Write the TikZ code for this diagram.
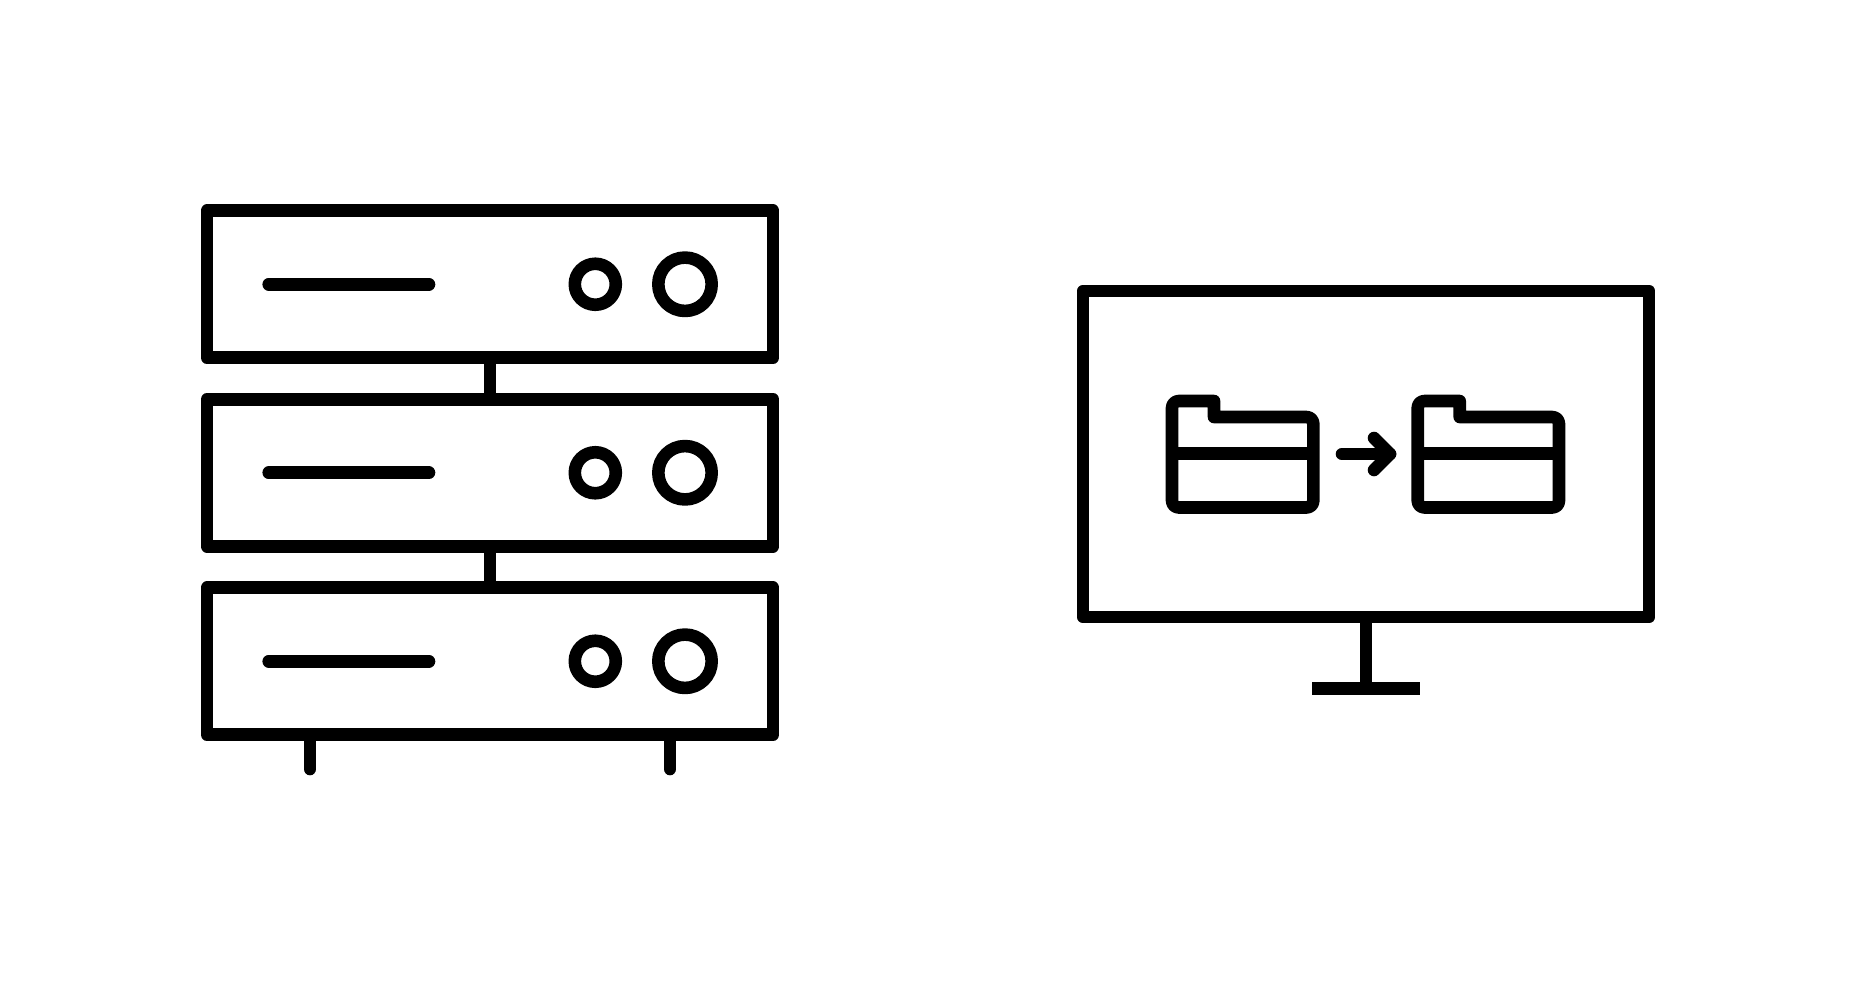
\documentclass[tikz,border=0pt]{standalone}
\usepackage{tikz}
\usetikzlibrary{positioning}

\begin{document}
\begin{tikzpicture}[x=0.5pt, y=-0.5pt, node distance={20.75pt}, line width=6.3pt, line join=round,
  rack/.style = {draw, rectangle, inner sep=0, outer sep=0, minimum width=283pt, minimum height=73.5pt},
  screen/.style = {draw, rectangle, inner sep=0, outer sep=0, minimum width=283pt, minimum height=163pt},
  ledsmall/.style = {draw, circle, inner sep=0, outer sep=0, minimum size=20.5pt},
  ledbig/.style = {draw, circle, inner sep=0, outer sep=0, minimum size=26.7pt},
  stand/.style = {fill, rectangle, inner sep=0, outer sep=0, minimum width=54.15pt, minimum height=6.2pt},
  slot/.style = {line cap=round},
  folder/.style = {rounded corners=3.4pt}]

\useasboundingbox (0,0) rectangle (1856,980);

% server rack
\node[rack] (rack1) at (490,284.25) {};
\node[rack] (rack2) [below=of rack1] {};
\node[rack] (rack3) [below=of rack2] {};

\draw (rack1) -- (rack2);
\draw (rack2) -- (rack3);

\foreach \i/\y in {1/284.25, 2/472.75, 3/661.25} {
  \coordinate (slotl\i) at (268.7,\y);
  \coordinate (slotr\i) at (429,\y);
  \draw[slot] (slotl\i) -- (slotr\i);
  \node[ledsmall] (small\i) at (595.3,\y) {};
  \node[ledbig] (big\i) at (685,\y) {};
}

\foreach \n/\x in {l/310, r/670} {
  \coordinate (foot\n a) at (\x,738);
  \coordinate (foot\n b) at (\x,769);
  \draw[slot] (foot\n a) -- (foot\n b);
}

% monitor
\node[screen] (monitor) at (1366,454) {};
\node[stand] (base) at (1366,688.5) {};
\draw (monitor) -- (base);

% folders
\foreach \dx in {0, 245.7} {
  \begin{scope}[xshift=\dx*0.5pt]
    \draw[folder] (1172,507.5) -- (1172,401) [sharp corners] -- (1214,401) -- (1214,417)
      [rounded corners=3.4pt] -- (1313.3,417) -- (1313.3,507.5) -- cycle;
    \draw (1172,453.3) -- (1313.3,453.3);
  \end{scope}
}

% arrow
\coordinate (arrowa) at (1342,454);
\coordinate (arrowb) at (1390,454);
\coordinate (headt) at (1374,438);
\coordinate (headb) at (1374,470);
\draw[slot] (arrowa) -- (arrowb);
\draw[slot] (headt) -- (arrowb) -- (headb);

\end{tikzpicture}
\end{document}
